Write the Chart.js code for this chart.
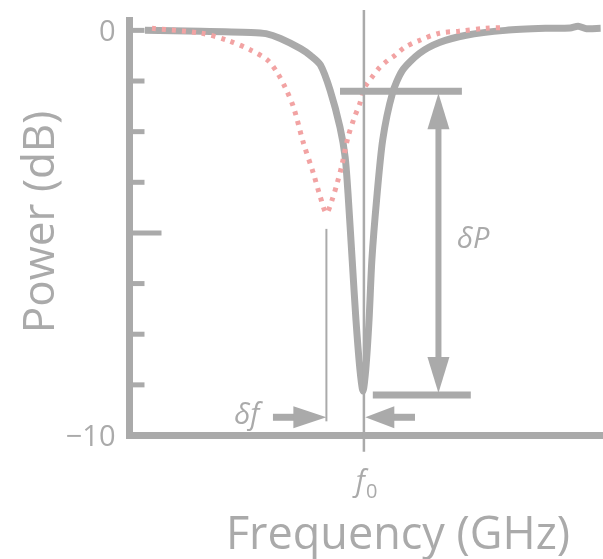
<!DOCTYPE html>
<html>
<head>
<meta charset="utf-8">
<script src="https://cdn.jsdelivr.net/npm/chart.js@4"></script>
<style>
  html, body { margin: 0; padding: 0; background: #fff; }
  #wrap { width: 603px; height: 559px; }
</style>
</head>
<body>
<div id="wrap"><canvas id="resonanceChart" width="603" height="559"></canvas></div>
<script>
// frequency offset from f0 (arbitrary units) and power (dB)
const grayFreq = [-4.67, -3.47, -2.41, -2.09, -1.78, -1.35, -1.14, -0.93, -0.72, -0.51, -0.40, -0.34, -0.25, -0.17, -0.085, -0.02, 0.04, 0.11, 0.17, 0.27, 0.40, 0.61, 0.82, 1.18, 1.61, 2.18, 3.02, 3.87, 4.40, 4.57, 4.75, 5.05];
const grayPower = [0, -0.02, -0.05, -0.08, -0.2, -0.45, -0.62, -0.85, -1.48, -2.39, -3.13, -4.01, -5.67, -7.14, -8.37, -8.9, -8.37, -7.14, -5.67, -4.19, -2.71, -1.55, -0.99, -0.57, -0.30, -0.12, 0, 0.05, 0.06, 0.1, 0.04, 0.05];

const pinkFreq = [-4.52, -3.47, -2.90, -2.41, -2.05, -1.84, -1.67, -1.50, -1.29, -1.08, -0.93, -0.80, -0.68, -0.57, -0.47, -0.34, -0.21, -0.085, 0.02, 0.17, 0.34, 0.51, 0.66, 0.87, 1.18, 1.61, 2.03, 2.60, 3.02];
const pinkPower = [0.05, -0.07, -0.25, -0.49, -0.74, -1.06, -1.43, -1.90, -2.78, -3.52, -4.11, -4.51, -4.19, -3.77, -3.33, -2.64, -2.17, -1.80, -1.40, -1.16, -0.91, -0.74, -0.62, -0.42, -0.25, -0.07, -0.02, 0.05, 0.07];

const yTickValues = [0, -1.25, -2.5, -3.75, -5, -6.25, -7.5, -8.75, -10];
const yLabelValues = [0, -10];
const yLabelText = ['0', '\u221210'];

// annotation values
const f0 = 0;
const dPTop = -1.5;
const dPBottom = -9.0;
const dPTopBar = [-0.51, 2.09];
const dPBottomBar = [0.19, 2.28];
const dPArrowX = 1.59;
const dfMarker = -0.80;
const dfLineSpan = [-4.9, -9.65];
const dfArrowY = -9.55;
const dfLeftArrow = [-1.94, dfMarker];
const dfRightArrow = [1.09, 0.03];
const dPLabelPos = [2.33, -5.17];
const dfLabelPos = [-2.5, -9.5];

const gray = '#aaaaaa';
const pink = '#f2a3a3';
const fontFamily = '"Open Sans", "Liberation Sans", sans-serif';

function toPoints(xs, ys) {
  return xs.map((x, i) => ({ x, y: ys[i] }));
}

function arrowHead(ctx, tipX, tipY, dirX, dirY, len, half) {
  const bx = tipX - dirX * len, by = tipY - dirY * len;
  ctx.beginPath();
  ctx.moveTo(tipX, tipY);
  ctx.lineTo(bx - dirY * half, by + dirX * half);
  ctx.lineTo(bx + dirY * half, by - dirX * half);
  ctx.closePath();
  ctx.fill();
}

function line(ctx, x1, y1, x2, y2, w) {
  ctx.lineWidth = w;
  ctx.beginPath();
  ctx.moveTo(x1, y1);
  ctx.lineTo(x2, y2);
  ctx.stroke();
}

const decorPlugin = {
  id: 'decor',
  afterDraw(chart) {
    const { ctx, chartArea, scales: { x, y } } = chart;
    ctx.save();
    ctx.strokeStyle = gray;
    ctx.fillStyle = gray;
    ctx.lineCap = 'butt';

    // axes
    line(ctx, chartArea.left, chartArea.top, chartArea.left, chartArea.bottom + 3.5, 7);
    line(ctx, chartArea.left - 3.5, chartArea.bottom, chartArea.right, chartArea.bottom, 7);

    // inner ticks
    yTickValues.forEach(v => {
      const py = y.getPixelForValue(v);
      const len = v === -5 ? 32 : 15;
      line(ctx, chartArea.left, py, chartArea.left + len, py, 5);
    });

    // tick labels
    ctx.font = '29px ' + fontFamily;
    ctx.textAlign = 'right';
    ctx.textBaseline = 'middle';
    yLabelValues.forEach((v, i) => {
      ctx.fillText(yLabelText[i], chartArea.left - 14, y.getPixelForValue(v) + 2);
    });

    // f0 marker
    const fx = x.getPixelForValue(f0);
    line(ctx, fx, y.getPixelForValue(0.5), fx, y.getPixelForValue(-10.4), 2.5);
    ctx.font = 'italic 29px ' + fontFamily;
    ctx.textAlign = 'right';
    ctx.textBaseline = 'alphabetic';
    ctx.fillText('f', fx + 1, 491);
    ctx.font = '20px ' + fontFamily;
    ctx.textAlign = 'left';
    ctx.fillText('0', fx + 2, 498);

    // dP bars and arrow
    const yT = y.getPixelForValue(dPTop), yB = y.getPixelForValue(dPBottom);
    line(ctx, x.getPixelForValue(dPTopBar[0]), yT, x.getPixelForValue(dPTopBar[1]), yT, 7);
    line(ctx, x.getPixelForValue(dPBottomBar[0]), yB, x.getPixelForValue(dPBottomBar[1]), yB, 7);
    const ax = x.getPixelForValue(dPArrowX);
    line(ctx, ax, yT + 25, ax, yB - 25, 6);
    arrowHead(ctx, ax, yT + 2, 0, -1, 36, 11);
    arrowHead(ctx, ax, yB - 2, 0, 1, 36, 11);

    // df marker and arrows
    const dx = x.getPixelForValue(dfMarker);
    line(ctx, dx, y.getPixelForValue(dfLineSpan[0]), dx, y.getPixelForValue(dfLineSpan[1]), 2);
    const ay = y.getPixelForValue(dfArrowY);
    const l0 = x.getPixelForValue(dfLeftArrow[0]), l1 = x.getPixelForValue(dfLeftArrow[1]);
    line(ctx, l0, ay, l1 - 25, ay, 7);
    arrowHead(ctx, l1, ay, 1, 0, 33, 11);
    const r0 = x.getPixelForValue(dfRightArrow[0]), r1 = x.getPixelForValue(dfRightArrow[1]);
    line(ctx, r0, ay, r1 + 22, ay, 7);
    arrowHead(ctx, r1, ay, -1, 0, 29, 11);

    // annotation labels
    ctx.font = 'italic 29px ' + fontFamily;
    ctx.textAlign = 'center';
    ctx.textBaseline = 'middle';
    ctx.fillText('\u03b4P', x.getPixelForValue(dPLabelPos[0]), y.getPixelForValue(dPLabelPos[1]));
    ctx.fillText('\u03b4f', x.getPixelForValue(dfLabelPos[0]), y.getPixelForValue(dfLabelPos[1]));

    // axis titles
    ctx.font = '45px ' + fontFamily;
    ctx.textAlign = 'center';
    ctx.textBaseline = 'alphabetic';
    ctx.fillText('Frequency (GHz)', 398, 549);
    ctx.font = '44px ' + fontFamily;
    ctx.save();
    ctx.translate(54, 222);
    ctx.rotate(-Math.PI / 2);
    ctx.fillText('Power (dB)', 0, 0);
    ctx.restore();

    ctx.restore();
  }
};

new Chart(document.getElementById('resonanceChart').getContext('2d'), {
  type: 'line',
  data: {
    datasets: [{
      label: 'shifted',
      data: toPoints(pinkFreq, pinkPower),
      borderColor: pink,
      borderWidth: 5,
      borderDash: [4, 6],
      pointRadius: 0,
      tension: 0.3,
      fill: false,
    }, {
      label: 'reference',
      data: toPoints(grayFreq, grayPower),
      borderColor: gray,
      borderWidth: 7,
      pointRadius: 0,
      tension: 0.25,
      fill: false,
    }],
  },
  options: {
    responsive: false,
    animation: false,
    layout: { padding: { left: 129.5, right: 0, top: 17, bottom: 123.5 } },
    scales: {
      x: { type: 'linear', min: -5, max: 5.1, display: false },
      y: { min: -10, max: 0.33, display: false },
    },
    plugins: {
      legend: { display: false },
      tooltip: { enabled: false },
    },
  },
  plugins: [decorPlugin],
});
</script>
</body>
</html>
